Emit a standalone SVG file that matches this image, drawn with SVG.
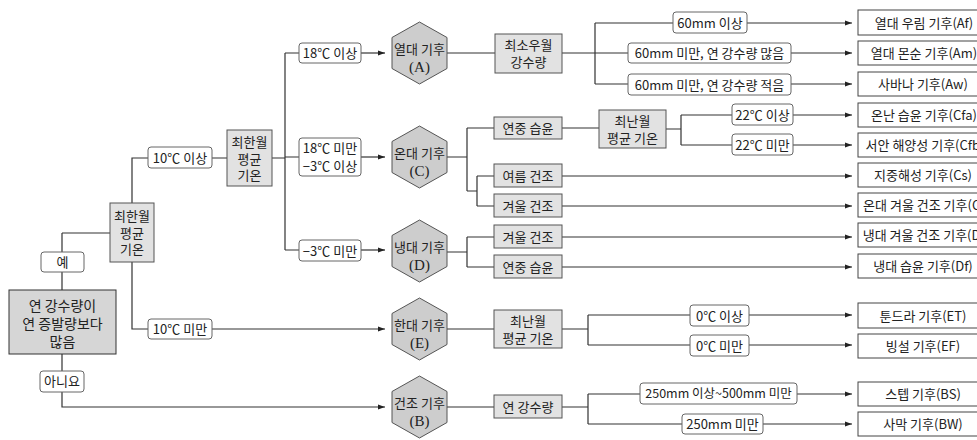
<svg xmlns="http://www.w3.org/2000/svg" width="977" height="440" viewBox="0 0 977 440">
<defs>
<marker id="arr" markerUnits="userSpaceOnUse" markerWidth="7" markerHeight="6" refX="7" refY="3" orient="auto">
<path d="M0,0.6 L7,3 L0,5.4 Z" fill="#222"/>
</marker>
<style>
text{font-family:"Noto Sans CJK KR","Noto Sans",sans-serif;fill:#222;text-anchor:middle;}
.lbl rect{fill:#fff;stroke:#666;stroke-width:1;}
.lbl text{font-size:13px;}
.lbl text.s{font-size:12.5px;}
.gb rect{fill:#e2e2e2;stroke:#555;stroke-width:1;}
.gb text{font-size:13px;}
.hex polygon{fill:#cdcdcd;stroke:#555;stroke-width:1;}
.hex text{font-size:13px;}
.hex text.l{font-family:"Liberation Serif",serif;font-size:15px;}
.res rect{fill:#fff;stroke:#444;stroke-width:1;}
.res text{font-size:13px;}
#conn path{fill:none;stroke:#333;stroke-width:1.2;}
#conn path.a{marker-end:url(#arr);}
</style>
</defs>
<rect width="977" height="440" fill="#fff"/>
<g id="conn">
<path d="M62,233 V252 M62,272 V290 M62,354 V371 M62,392 V407 H385" class="a"/>
<path d="M62,233 H110"/>
<path d="M132,203 V158 H148 M212,158 H227"/>
<path d="M132,262 V329 H148"/>
<path d="M212,329 H385" class="a"/>
<path d="M272,158 H285 M285,53 V250 M285,53 H299 M285,157 H299 M285,250 H299"/>
<path d="M361,53 H385" class="a"/>
<path d="M361,157 H385" class="a"/>
<path d="M361,250 H385" class="a"/>
<path d="M447,53 H495 M562,53 H595 M595,23 V84 M595,23 H673 M595,53 H628 M595,84 H628"/>
<path d="M747,23 H852" class="a"/>
<path d="M791,53 H852" class="a"/>
<path d="M791,84 H852" class="a"/>
<path d="M447,157 H467 M467,128 V191 M467,128 H494 M562,128 H599 M666,129 H681 M681,115 V145 M681,115 H732 M681,145 H732 M467,191 H477 M477,176 V206 M477,176 H494 M477,206 H494"/>
<path d="M793,115 H852" class="a"/>
<path d="M793,145 H852" class="a"/>
<path d="M562,176 H852" class="a"/>
<path d="M562,206 H852" class="a"/>
<path d="M447,252 H467 M467,237 V267 M467,237 H494 M467,267 H494"/>
<path d="M562,237 H852" class="a"/>
<path d="M562,267 H852" class="a"/>
<path d="M447,329 H494 M562,329 H588 M588,315 V345 M588,315 H690 M588,345 H690"/>
<path d="M749,315 H852" class="a"/>
<path d="M749,345 H852" class="a"/>
<path d="M447,407 H494 M562,407 H588 M588,394 V424 M588,394 H640 M588,424 H682"/>
<path d="M797,394 H852" class="a"/>
<path d="M763,424 H852" class="a"/>
</g>
<g id="start">
<rect x="9" y="290" width="107" height="64" fill="#d6d6d6" stroke="#333" stroke-width="1"/>
<text x="62.5" y="311" font-size="14">연 강수량이</text>
<text x="62.5" y="329" font-size="14">연 증발량보다</text>
<text x="62.5" y="347" font-size="14">많음</text>
</g>
<g id="yes" class="lbl"><rect x="41" y="252" width="43" height="20" rx="3"/><text x="62.5" y="266.5">예</text></g>
<g id="no" class="lbl"><rect x="40" y="371" width="44" height="21" rx="3"/><text x="62" y="386">아니요</text></g>
<g id="cold1" class="gb"><rect x="110" y="203" width="44" height="59"/>
<text x="132" y="221">최한월</text><text x="132" y="238">평균</text><text x="132" y="254">기온</text></g>
<g id="t10up" class="lbl"><rect x="148" y="147" width="64" height="21" rx="3"/><text x="180" y="162.5">10℃ 이상</text></g>
<g id="t10dn" class="lbl"><rect x="148" y="319" width="64" height="20" rx="3"/><text x="180" y="334">10℃ 미만</text></g>
<g id="cold2" class="gb"><rect x="227" y="130" width="45" height="56"/>
<text x="249.5" y="147">최한월</text><text x="249.5" y="164">평균</text><text x="249.5" y="180">기온</text></g>
<g id="t18up" class="lbl"><rect x="299" y="43" width="62" height="20" rx="3"/><text x="330" y="58">18℃ 이상</text></g>
<g id="t18mid" class="lbl"><rect x="299" y="138" width="62" height="38" rx="3"/><text x="330" y="153">18℃ 미만</text><text x="330" y="170.5">−3℃ 이상</text></g>
<g id="tm3" class="lbl"><rect x="299" y="240" width="62" height="21" rx="3"/><text x="330" y="255.5">−3℃ 미만</text></g>
<g id="hexA" class="hex"><polygon points="419.5,22 447,37.5 447,68.5 419.5,84 392,68.5 392,37.5"/><text x="419.5" y="54">열대 기후</text><text class="l" x="419.5" y="72">(A)</text></g>
<g id="hexC" class="hex"><polygon points="419.5,126 447,141.5 447,172.5 419.5,188 392,172.5 392,141.5"/><text x="419.5" y="158">온대 기후</text><text class="l" x="419.5" y="176">(C)</text></g>
<g id="hexD" class="hex"><polygon points="419.5,220 447,235.5 447,266.5 419.5,282 392,266.5 392,235.5"/><text x="419.5" y="252">냉대 기후</text><text class="l" x="419.5" y="270">(D)</text></g>
<g id="hexE" class="hex"><polygon points="419.5,298 447,313.5 447,344.5 419.5,360 392,344.5 392,313.5"/><text x="419.5" y="330">한대 기후</text><text class="l" x="419.5" y="348">(E)</text></g>
<g id="hexB" class="hex"><polygon points="419.5,376 447,391.5 447,422.5 419.5,438 392,422.5 392,391.5"/><text x="419.5" y="408">건조 기후</text><text class="l" x="419.5" y="426">(B)</text></g>
<g id="minrain" class="gb"><rect x="495" y="34" width="67" height="39"/><text x="528.5" y="50">최소우월</text><text x="528.5" y="67">강수량</text></g>
<g id="cwet" class="gb"><rect x="494" y="117" width="68" height="22"/><text x="528" y="132.5">연중 습윤</text></g>
<g id="warm1" class="gb"><rect x="599" y="110" width="67" height="38"/><text x="632.5" y="125.5">최난월</text><text x="632.5" y="142.5">평균 기온</text></g>
<g id="csum" class="gb"><rect x="494" y="164" width="68" height="23"/><text x="528" y="180.5">여름 건조</text></g>
<g id="cwin" class="gb"><rect x="494" y="194" width="68" height="23"/><text x="528" y="210.5">겨울 건조</text></g>
<g id="dwin" class="gb"><rect x="494" y="225" width="68" height="23"/><text x="528" y="241.5">겨울 건조</text></g>
<g id="dwet" class="gb"><rect x="494" y="255" width="68" height="23"/><text x="528" y="271.5">연중 습윤</text></g>
<g id="warm2" class="gb"><rect x="494" y="310" width="68" height="38"/><text x="528" y="325.5">최난월</text><text x="528" y="342.5">평균 기온</text></g>
<g id="annrain" class="gb"><rect x="494" y="395" width="68" height="23"/><text x="528" y="411.5">연 강수량</text></g>
<g id="l60up" class="lbl"><rect x="673" y="12" width="74" height="21" rx="3"/><text x="710" y="27.5">60mm 이상</text></g>
<g id="l60many" class="lbl"><rect x="628" y="43" width="163" height="20" rx="3"/><text x="709.5" y="58">60mm 미만, 연 강수량 많음</text></g>
<g id="l60few" class="lbl"><rect x="628" y="74" width="163" height="21" rx="3"/><text x="709.5" y="89.5">60mm 미만, 연 강수량 적음</text></g>
<g id="l22up" class="lbl"><rect x="732" y="104" width="61" height="21" rx="3"/><text x="762.5" y="119.5">22℃ 이상</text></g>
<g id="l22dn" class="lbl"><rect x="732" y="134" width="61" height="21" rx="3"/><text x="762.5" y="149.5">22℃ 미만</text></g>
<g id="l0up" class="lbl"><rect x="690" y="305" width="59" height="21" rx="3"/><text x="719.5" y="320.5">0℃ 이상</text></g>
<g id="l0dn" class="lbl"><rect x="690" y="335" width="59" height="21" rx="3"/><text x="719.5" y="350.5">0℃ 미만</text></g>
<g id="l250mid" class="lbl"><rect x="640" y="383" width="157" height="21" rx="3"/><text class="s" x="718.5" y="398">250mm 이상~500mm 미만</text></g>
<g id="l250dn" class="lbl"><rect x="682" y="414" width="81" height="20" rx="3"/><text x="722.5" y="429">250mm 미만</text></g>
<g id="Af" class="res"><rect x="858" y="10" width="130" height="25"/><text x="924" y="27.5">열대 우림 기후(Af)</text></g>
<g id="Am" class="res"><rect x="858" y="41" width="130" height="24"/><text x="924" y="58">열대 몬순 기후(Am)</text></g>
<g id="Aw" class="res"><rect x="858" y="72" width="130" height="24"/><text x="923" y="89">사바나 기후(Aw)</text></g>
<g id="Cfa" class="res"><rect x="858" y="103" width="130" height="24"/><text x="924" y="120">온난 습윤 기후(Cfa)</text></g>
<g id="Cfb" class="res"><rect x="858" y="133" width="130" height="24"/><text x="925" y="150">서안 해양성 기후(Cfb)</text></g>
<g id="Cs" class="res"><rect x="858" y="163" width="130" height="24"/><text x="923" y="180">지중해성 기후(Cs)</text></g>
<g id="Cw" class="res"><rect x="858" y="193" width="130" height="24"/><text x="929" y="210">온대 겨울 건조 기후(Cw)</text></g>
<g id="Dw" class="res"><rect x="858" y="223" width="130" height="24"/><text x="929" y="240">냉대 겨울 건조 기후(Dw)</text></g>
<g id="Df" class="res"><rect x="858" y="254" width="130" height="24"/><text x="923" y="271">냉대 습윤 기후(Df)</text></g>
<g id="ET" class="res"><rect x="858" y="303" width="130" height="25"/><text x="923" y="320.5">툰드라 기후(ET)</text></g>
<g id="EF" class="res"><rect x="858" y="334" width="130" height="24"/><text x="923" y="351">빙설 기후(EF)</text></g>
<g id="BS" class="res"><rect x="858" y="382" width="130" height="24"/><text x="923" y="399">스텝 기후(BS)</text></g>
<g id="BW" class="res"><rect x="858" y="412" width="130" height="24"/><text x="923" y="429">사막 기후(BW)</text></g>
</svg>
